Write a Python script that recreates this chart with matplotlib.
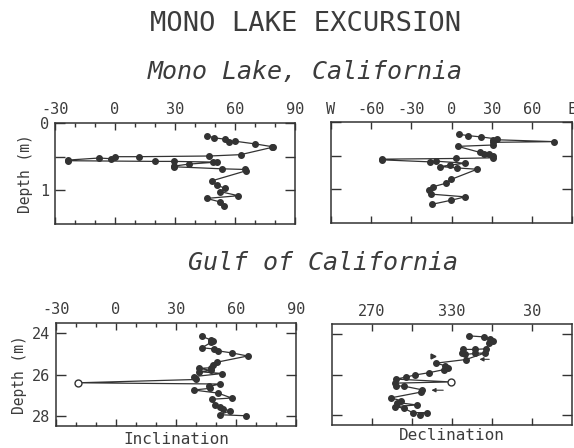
import matplotlib
matplotlib.use("Agg")
import matplotlib.pyplot as plt
from matplotlib.ticker import MultipleLocator

# Mono Lake, California: inclination vs depth (m)
ml_inc = [46.2, 49.7, 55, 57.2, 60, 70, 78.3, 78.8, 62.8, 47.2, 12.2, 0, -2,
          -8, -23.3, -23.3, 20, 29.5, 49, 51, 37, 29.5, 29.5, 53.3, 65, 65.5,
          48.3, 50.8, 55, 52.7, 61.7, 45.8, 52.3, 54.3]
ml_inc_depth = [0.19, 0.22, 0.24, 0.28, 0.27, 0.31, 0.35, 0.36, 0.47, 0.49,
                0.50, 0.50, 0.53, 0.52, 0.55, 0.56, 0.57, 0.57, 0.58, 0.58,
                0.61, 0.64, 0.65, 0.68, 0.69, 0.71, 0.86, 0.92, 0.97, 1.02,
                1.08, 1.12, 1.17, 1.23]

# Mono Lake, California: declination vs depth (m)
ml_dec = [5.4, 12.2, 22.1, 33.7, 30.8, 76.6, 31.3, 30.8, 4.7, 21.3, 24.6, 28.3,
          31.3, 31.3, 3.5, -51.6, -52.3, -16.4, -11.9, 10.4, -1.5, -8.4, 4,
          19.1, -0.2, -4.5, -13.9, -16.9, -15.1, 10.2, -0.2, -14.4]
ml_dec_depth = [0.18, 0.20, 0.22, 0.25, 0.26, 0.29, 0.30, 0.34, 0.36, 0.45,
                0.47, 0.48, 0.50, 0.53, 0.54, 0.55, 0.56, 0.59, 0.58, 0.61,
                0.64, 0.66, 0.68, 0.70, 0.85, 0.91, 0.96, 1.01, 1.07, 1.11,
                1.16, 1.22]

# Gulf of California: inclination vs depth (m)
gc_inc = [43, 47.5, 47.5, 48.5, 43, 49, 51, 58, 65.8, 50.5, 48.5, 47.5, 41.5,
          47.5, 41.5, 53.2, 38.8, 40, -19, 52, 46.3, 47, 38.8, 51, 57.8, 47.8,
          49.7, 52, 53.5, 57, 52, 64.8]
gc_inc_depth = [24.15, 24.32, 24.43, 24.38, 24.7, 24.76, 24.85, 24.95, 25.1,
                25.4, 25.53, 25.67, 25.7, 25.8, 25.86, 25.95, 26.1, 26.24,
                26.4, 26.46, 26.58, 26.67, 26.75, 26.9, 27.14, 27.2, 27.46,
                27.56, 27.67, 27.76, 27.95, 28.0]
gc_inc_open = [(-19, 26.4)]

# Gulf of California: declination vs depth (m)
gc_dec = [343, 354, 358.5, 360.5, 358, 355.5, 347, 338, 337.5, 340, 347, 355,
          340.5, 318, 324.5, 327, 324, 313, 302, 295.5, 288, 329, 287, 288,
          294, 307.5, 307, 284, 291.5, 289, 303.5, 287.5, 294, 300.5, 311.5,
          306]
gc_dec_depth = [24.08, 24.13, 24.24, 24.34, 24.45, 24.72, 24.75, 24.75, 24.95,
                25.0, 24.95, 24.92, 25.25, 25.43, 25.55, 25.67, 25.75, 25.9,
                26.02, 26.12, 26.22, 26.36, 26.42, 26.55, 26.57, 26.75, 26.86,
                27.15, 27.28, 27.38, 27.5, 27.58, 27.67, 27.88, 27.88, 28.0]
gc_dec_open = [(329, 26.36)]
gc_dec_extra = [(315.5, 25.1)]
gc_dec_arrows = [((360, 25.24), (348.5, 25.24)), ((325.5, 26.77), (312.5, 26.77))]

inc_ticks = [-30, 0, 30, 60, 90]
inc_labels = ["-30", "0", "30", "60", "90"]
ml_dec_ticks = [-90, -60, -30, 0, 30, 60, 90]
ml_dec_labels = ["W", "-60", "-30", "0", "30", "60", "E"]
gc_dec_ticks = [270, 300, 330, 360, 390]
gc_dec_labels = ["270", "", "330", "", "30"]

ink = "#333333"
txt = "#3c3c3c"
mono = "DejaVu Sans Mono"
plt.rcParams["font.family"] = mono
plt.rcParams["axes.linewidth"] = 1.1

fig = plt.figure(figsize=(5.74, 4.48), dpi=100)

ax_ml_inc = fig.add_axes([0.0958, 0.500, 0.4181, 0.2254])
ax_ml_dec = fig.add_axes([0.5767, 0.502, 0.4199, 0.2254])
ax_gc_inc = fig.add_axes([0.0976, 0.049, 0.4181, 0.2299])
ax_gc_dec = fig.add_axes([0.5784, 0.051, 0.4181, 0.2254])


def style(ax, xlim, ylim, xt, xl, yt, yl, minor=None):
    ax.set_xlim(*xlim)
    ax.set_ylim(*ylim)
    ax.set_xticks(xt)
    ax.set_xticklabels(xl)
    ax.set_yticks(yt)
    ax.set_yticklabels(yl)
    if minor:
        ax.xaxis.set_minor_locator(MultipleLocator(minor))
    ax.tick_params(axis="x", which="major", direction="in", top=True,
                   bottom=True, labeltop=True, labelbottom=False, length=5,
                   width=1, labelsize=11, pad=4, colors=ink, labelcolor=txt)
    ax.tick_params(axis="x", which="minor", direction="in", top=True,
                   bottom=True, length=3, width=1, colors=ink)
    ax.tick_params(axis="y", direction="in", left=True, right=True,
                   length=7, width=1, labelsize=11, pad=4, colors=ink,
                   labelcolor=txt)
    for s in ax.spines.values():
        s.set_color(ink)


def draw(ax, x, y):
    ax.plot(x, y, "-o", color=ink, lw=0.9, ms=4, mfc=ink, mec=ink)


draw(ax_ml_inc, ml_inc, ml_inc_depth)
style(ax_ml_inc, (-30, 90), (1.5, 0), inc_ticks, inc_labels,
      [0, 0.5, 1], ["0", "", "1"], minor=10)
ax_ml_inc.set_ylabel("Depth (m)", fontsize=10.5, labelpad=5, color=txt)

draw(ax_ml_dec, ml_dec, ml_dec_depth)
style(ax_ml_dec, (-90, 90), (1.5, 0), ml_dec_ticks, ml_dec_labels,
      [0, 0.5, 1], ["", "", ""])

draw(ax_gc_inc, gc_inc, gc_inc_depth)
for px, py in gc_inc_open:
    ax_gc_inc.plot(px, py, "o", ms=5, mfc="white", mec=ink, mew=1)
style(ax_gc_inc, (-30, 90), (28.5, 23.5), inc_ticks, inc_labels,
      [24, 26, 28], ["24", "26", "28"], minor=10)
ax_gc_inc.set_ylabel("Depth (m)", fontsize=10.5, labelpad=4, color=txt)
ax_gc_inc.xaxis.set_label_position("bottom")
ax_gc_inc.set_xlabel("Inclination", fontsize=11.5, labelpad=1, color=txt)

draw(ax_gc_dec, gc_dec, gc_dec_depth)
for px, py in gc_dec_open:
    ax_gc_dec.plot(px, py, "o", ms=5, mfc="white", mec=ink, mew=1)
for px, py in gc_dec_extra:
    ax_gc_dec.plot(px, py, ">", ms=3.5, color=ink)
for start, end in gc_dec_arrows:
    ax_gc_dec.annotate("", xy=end, xytext=start,
                       arrowprops=dict(arrowstyle="-|>", color=ink, lw=0.8,
                                       mutation_scale=6))
style(ax_gc_dec, (240, 420), (28.5, 23.5), gc_dec_ticks, gc_dec_labels,
      [24, 26, 28], ["", "", ""])
ax_gc_dec.xaxis.set_label_position("bottom")
ax_gc_dec.set_xlabel("Declination", fontsize=11.5, labelpad=2, color=txt)

fig.text(0.533, 0.946, "MONO LAKE EXCURSION", ha="center", va="center",
         fontsize=19.5, color=txt)
fig.text(0.531, 0.839, "Mono Lake, California", ha="center", va="center",
         fontsize=18, style="oblique", color=txt)
fig.text(0.562, 0.413, "Gulf of California", ha="center", va="center",
         fontsize=18, style="oblique", color=txt)

fig.savefig("out.png", dpi=100)
